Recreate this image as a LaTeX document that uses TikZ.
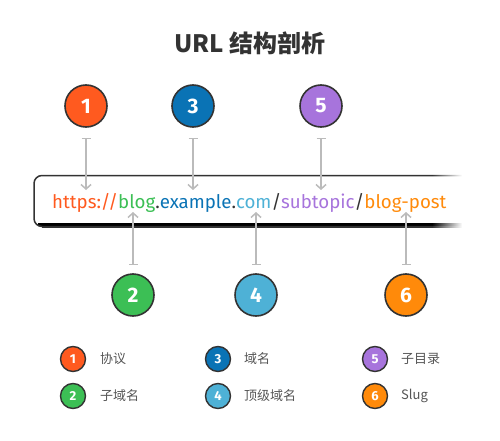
\documentclass[tikz,border=0pt]{standalone}
\usepackage{fontspec}
\setmainfont{Fira Sans}
\newfontfamily\cjk{Noto Sans CJK SC}
\newfontfamily\urlfont{Fira Sans}
\usetikzlibrary{arrows.meta,fadings}
\definecolor{cA}{HTML}{FF5A1F}
\definecolor{cB}{HTML}{3CBF55}
\definecolor{cC}{HTML}{0A73B5}
\definecolor{cD}{HTML}{4EB1D6}
\definecolor{cE}{HTML}{A774DC}
\definecolor{cF}{HTML}{FF8A0A}
\definecolor{ink}{HTML}{333333}
\definecolor{conn}{HTML}{BBBBBB}
\definecolor{lbl}{HTML}{555555}
\definecolor{shade}{HTML}{DEDEDE}
\tikzfading[name=fadeR, left color=transparent!100, right color=transparent!0]
\tikzset{
  badge/.style={circle, draw=ink, line width=1.6pt, fill=#1, minimum size=42pt, inner sep=0pt,
    text=white, font=\fontsize{21}{21}\selectfont\bfseries},
  minibadge/.style={circle, draw=ink, line width=1.4pt, fill=#1, minimum size=25pt, inner sep=0pt,
    text=white, font=\fontsize{13}{13}\selectfont\bfseries},
  legendtxt/.style={anchor=west, text=lbl, font=\cjk\fontsize{13}{13}\selectfont, inner sep=0pt},
  connector/.style={draw=conn, line width=1.5pt, {Bar[width=9pt,line width=1.5pt]}-{Straight Barb[length=4.5pt,width=10pt,line width=1.5pt]}},
}
\begin{document}
\begin{tikzpicture}[x=1pt,y=-1pt]
\useasboundingbox (0,0) rectangle (500,441);
% title
\node[font=\cjk\fontsize{24}{24}\selectfont\bfseries, text=ink] (title) at (250,43) {URL 结构剖析};
% box
\draw[shade, line width=2.4pt] (38,224.6) -- (462,224.6);
\draw[ink, line width=1.5pt, rounded corners=8pt] (462,175.5) -- (34,175.5) -- (34,226.5) -- (462,226.5);
\draw[ink, line width=1.6pt] (42,226.8) -- (462,226.8);
\fill[white, path fading=fadeR] (432,170) rectangle (462,232);
\fill[white] (462,170) rectangle (500,232);
% url text
\node[font=\urlfont\fontsize{18.7}{18.7}\selectfont, inner sep=0pt, anchor=base west] (url) at (52,208)
 {\textcolor{cA}{https://}\textcolor{cB}{blog}\textcolor{ink}{.}\textcolor{cC}{example}\textcolor{ink}{.}\textcolor{cD}{com}\textcolor{ink}{/}\textcolor{cE}{subtopic}\textcolor{ink}{/}\textcolor{cF}{blog-post}};
% badges
\node[badge=cA] (n1) at (86,106) {1};
\node[badge=cC] (n3) at (193,106) {3};
\node[badge=cE] (n5) at (321,106) {5};
\node[badge=cB] (n2) at (133,295) {2};
\node[badge=cD] (n4) at (256,295) {4};
\node[badge=cF] (n6) at (406,295) {6};
\coordinate (t1) at (86,190);
\coordinate (t3) at (193,190);
\coordinate (t5) at (321,190);
\coordinate (b2) at (133,212);
\coordinate (b4) at (256,212);
\coordinate (b6) at (406,212);
\draw[connector] ([yshift=-10pt]n1.south) -- (t1);
\draw[connector] ([yshift=-10pt]n3.south) -- (t3);
\draw[connector] ([yshift=-10pt]n5.south) -- (t5);
\draw[connector] ([yshift=8pt]n2.north) -- (b2);
\draw[connector] ([yshift=8pt]n4.north) -- (b4);
\draw[connector] ([yshift=8pt]n6.north) -- (b6);
% legend
\node[minibadge=cA] (l1) at (73,359) {1};
\node[minibadge=cB] (l2) at (73,396) {2};
\node[minibadge=cC] (l3) at (218,359) {3};
\node[minibadge=cD] (l4) at (218,396) {4};
\node[minibadge=cE] (l5) at (375,359) {5};
\node[minibadge=cF] (l6) at (375,396) {6};
\node[legendtxt] (L1) at (100,359) {协议};
\node[legendtxt] (L2) at (100,396) {子域名};
\node[legendtxt] (L3) at (244,359) {域名};
\node[legendtxt] (L4) at (244,396) {顶级域名};
\node[legendtxt] (L5) at (401,359) {子目录};
\node[legendtxt] (L6) at (401,396) {Slug};
\end{tikzpicture}
\end{document}
